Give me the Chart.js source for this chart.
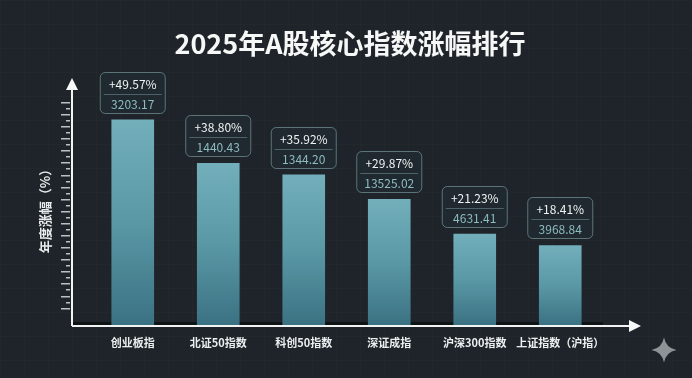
<!DOCTYPE html>
<html>
<head>
<meta charset="utf-8">
<style>
  html, body { margin: 0; padding: 0; width: 692px; height: 378px; overflow: hidden; }
  body {
    background-color: #1e2429;
    background-image:
      linear-gradient(rgba(255,255,255,0.014) 1px, transparent 1px),
      linear-gradient(90deg, rgba(255,255,255,0.014) 1px, transparent 1px);
    background-size: 24px 24px;
  }
  canvas { display: block; }
</style>
<script src="https://cdn.jsdelivr.net/npm/chart.js@4"></script>
</head>
<body>
<canvas id="chart" width="692" height="378"></canvas>
<script>
const categories = ['创业板指', '北证50指数', '科创50指数', '深证成指', '沪深300指数', '上证指数（沪指）'];
const changePct = [49.57, 38.80, 35.92, 29.87, 21.23, 18.41];
const closeLabels = ['3203.17', '1440.43', '1344.20', '13525.02', '4631.41', '3968.84'];

const chartTitle = '2025年A股核心指数涨幅排行';
const yTitle = '年度涨幅（%）';
const fontFamily = '"Noto Sans CJK SC", "Noto Sans", sans-serif';

const yMin = -1.3;
const yMax = 56.7;

function roundedRect(ctx, x, y, w, h, r) {
  ctx.beginPath();
  ctx.roundRect(x, y, w, h, r);
}

// axis lines with arrows, ruler ticks, shadow along the base
const axesPlugin = {
  id: 'axes',
  beforeDatasetsDraw(chart) {
    const { ctx, chartArea, scales } = chart;
    const axisX = chartArea.left - 18;
    const axisY = chartArea.bottom + 1;
    ctx.save();
    ctx.fillStyle = 'rgba(10,14,16,0.75)';
    ctx.fillRect(axisX + 1, axisY - 4, 530, 4);
    ctx.fillStyle = 'rgba(226,232,234,0.8)';
    scales.y.ticks.forEach(t => {
      if (t.value < 2 || t.value > 56) return;
      const y = scales.y.getPixelForValue(t.value);
      const long = Math.round(t.value / 1.5) % 2 === 0;
      const len = long ? 9 : 4;
      ctx.fillRect(axisX - 2 - len, Math.round(y), len, 1.5);
    });
    ctx.restore();
  },
  afterDatasetsDraw(chart) {
    const { ctx, chartArea } = chart;
    const axisX = chartArea.left - 18;
    const axisY = chartArea.bottom + 1;
    ctx.save();
    ctx.strokeStyle = '#f2f4f4';
    ctx.fillStyle = '#f7f8f8';
    ctx.lineWidth = 2;
    ctx.beginPath();
    ctx.moveTo(axisX, axisY);
    ctx.lineTo(axisX, 88);
    ctx.moveTo(axisX, axisY);
    ctx.lineTo(632, axisY);
    ctx.stroke();
    ctx.beginPath();
    ctx.moveTo(axisX, 78);
    ctx.lineTo(axisX + 6, 90);
    ctx.lineTo(axisX - 6, 90);
    ctx.closePath();
    ctx.fill();
    ctx.beginPath();
    ctx.moveTo(641, axisY);
    ctx.lineTo(629, axisY - 6);
    ctx.lineTo(629, axisY + 6);
    ctx.closePath();
    ctx.fill();
    ctx.restore();
  }
};

// title, value boxes, corner sparkle
const labelsPlugin = {
  id: 'labels',
  afterDraw(chart) {
    const { ctx, scales } = chart;
    ctx.save();
    ctx.textAlign = 'center';
    ctx.textBaseline = 'middle';

    ctx.fillStyle = '#f6f7f7';
    ctx.font = '700 27px ' + fontFamily;
    ctx.fillText(chartTitle, 350, 44);

    const meta = chart.getDatasetMeta(0);
    meta.data.forEach((bar, i) => {
      const cx = bar.x;
      const top = Math.round(scales.y.getPixelForValue(changePct[i])) - 48;
      roundedRect(ctx, cx - 32.5, top + 0.5, 65, 41, 5);
      ctx.fillStyle = 'rgba(31,42,48,0.9)';
      ctx.fill();
      ctx.strokeStyle = 'rgba(118,148,154,0.7)';
      ctx.lineWidth = 1;
      ctx.stroke();
      ctx.beginPath();
      ctx.moveTo(cx - 29, top + 22.5);
      ctx.lineTo(cx + 29, top + 22.5);
      ctx.strokeStyle = 'rgba(118,148,154,0.55)';
      ctx.stroke();
      ctx.fillStyle = '#f0f3f3';
      ctx.font = '400 12px ' + fontFamily;
      ctx.fillText('+' + changePct[i].toFixed(2) + '%', cx, top + 12);
      ctx.fillStyle = '#8dbcc2';
      ctx.fillText(closeLabels[i], cx, top + 32);
    });

    // sparkle
    const sx = 664, sy = 350, sr = 12.5;
    ctx.fillStyle = '#8d9396';
    ctx.beginPath();
    ctx.moveTo(sx, sy - sr);
    ctx.quadraticCurveTo(sx + 2, sy - 2, sx + sr, sy);
    ctx.quadraticCurveTo(sx + 2, sy + 2, sx, sy + sr);
    ctx.quadraticCurveTo(sx - 2, sy + 2, sx - sr, sy);
    ctx.quadraticCurveTo(sx - 2, sy - 2, sx, sy - sr);
    ctx.fill();
    ctx.restore();
  }
};

function barGradient(context) {
  const chart = context.chart;
  if (!chart.chartArea || context.raw === undefined) return '#5a98a6';
  const y = chart.scales.y;
  const g = chart.ctx.createLinearGradient(0, y.getPixelForValue(context.raw), 0, y.getPixelForValue(yMin));
  g.addColorStop(0, '#72afbb');
  g.addColorStop(0.5, '#5a98a6');
  g.addColorStop(1, '#3b7283');
  return g;
}

new Chart(document.getElementById('chart').getContext('2d'), {
  type: 'bar',
  data: {
    labels: categories,
    datasets: [{
      data: changePct,
      base: yMin,
      barThickness: 42,
      backgroundColor: barGradient,
      borderWidth: 0
    }]
  },
  options: {
    responsive: false,
    animation: false,
    layout: { padding: { top: 91, left: 37, right: 89, bottom: 25 } },
    plugins: { legend: { display: false }, tooltip: { enabled: false } },
    scales: {
      x: {
        grid: { display: false },
        border: { display: false },
        afterFit: s => { s.height = 28; },
        ticks: {
          color: '#eceff0',
          font: { family: fontFamily, size: 11, weight: '600' },
          padding: 3,
          autoSkip: false,
          minRotation: 0,
          maxRotation: 0
        }
      },
      y: {
        min: yMin,
        max: yMax,
        grid: { display: false },
        border: { display: false },
        afterFit: s => { s.width = 53; },
        ticks: { display: false, stepSize: 1.5 },
        title: {
          display: true,
          text: yTitle,
          color: '#e8ebec',
          font: { family: fontFamily, size: 13, weight: '700' },
          padding: 0
        }
      }
    }
  },
  plugins: [axesPlugin, labelsPlugin]
});
</script>
</body>
</html>
